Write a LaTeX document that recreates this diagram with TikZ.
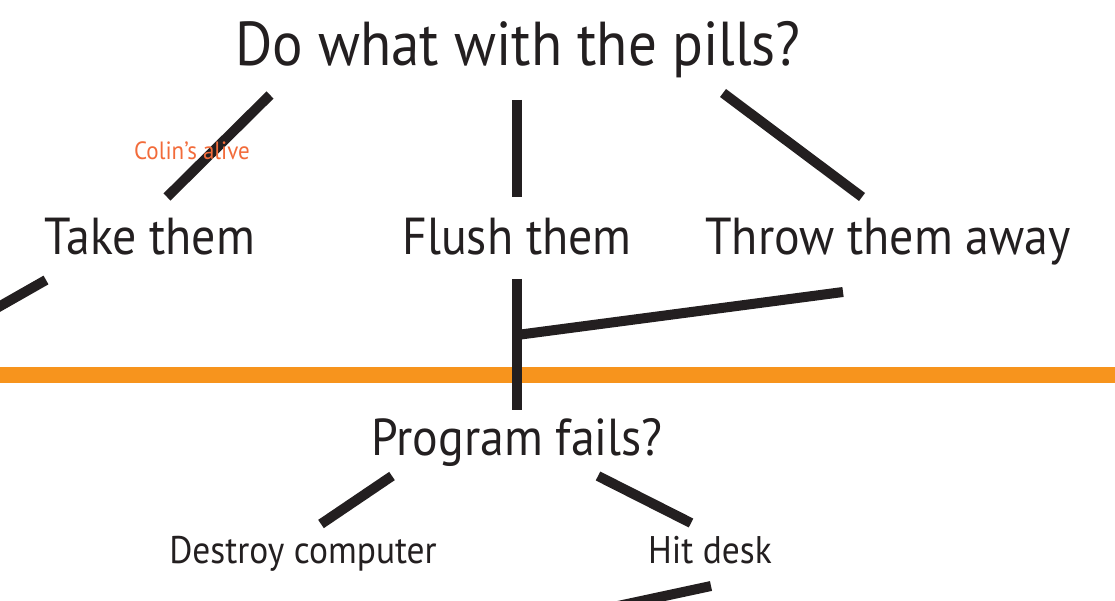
\documentclass[tikz,border=0pt]{standalone}
\usepackage{fontspec}
\setmainfont{PT Sans}[FakeStretch=0.92]
\definecolor{ink}{HTML}{231F20}
\definecolor{barorange}{HTML}{F7941D}
\definecolor{noteorange}{HTML}{F26B3A}
\tikzset{
  lbl/.style={inner sep=0pt, anchor=base, text=ink},
  big/.style={lbl, font=\fontsize{62}{68}\selectfont},
  mid/.style={lbl, font=\fontsize{52}{58}\selectfont},
  small/.style={lbl, font=\fontsize{38.5}{44}\selectfont},
  note/.style={inner sep=0pt, anchor=base, text=noteorange, font=\fontsize{25}{28}\selectfont},
  stroke/.style={draw=ink, line width=10pt},
  divider/.style={draw=barorange, line width=16pt}
}
\begin{document}
\begin{tikzpicture}[x=1pt,y=-1pt]
\useasboundingbox (0,0) rectangle (1115,601);
% divider
\coordinate (dl) at (0,375);
\coordinate (dr) at (1115,375);
\draw[divider] (dl) -- (dr);
% texts
\node[big] (q) at (518,66) {Do what with the pills?};
\node[mid] (take) at (150,255) {Take them};
\node[mid] (flush) at (517,255) {Flush them};
\node[mid] (throw) at (888,255) {Throw them away};
\node[mid] (prog) at (517,455) {Program fails?};
\node[small] (destroy) at (303,563) {Destroy computer};
\node[small] (hit) at (710,563) {Hit desk};
% line end points
\coordinate (a1) at (270,95); \coordinate (a2) at (167,197);
\coordinate (b1) at (517,100); \coordinate (b2) at (517,197);
\coordinate (c1) at (723,93); \coordinate (c2) at (862,197);
\coordinate (d1) at (46,280); \coordinate (d2) at (-5,309);
\coordinate (e1) at (517,279); \coordinate (e2) at (517,410);
\coordinate (f1) at (517,335); \coordinate (f2) at (843,292);
\coordinate (g1) at (392,476); \coordinate (g2) at (321,524);
\coordinate (h1) at (598,476); \coordinate (h2) at (691,523);
\coordinate (k1) at (711,586); \coordinate (k2) at (590,612);
\draw[stroke] (a1) -- (a2);
\draw[stroke] (b1) -- (b2);
\draw[stroke] (c1) -- (c2);
\draw[stroke] (d1) -- (d2);
\draw[stroke] (e1) -- (e2);
\draw[stroke] (f1) -- (f2);
\draw[stroke] (g1) -- (g2);
\draw[stroke] (h1) -- (h2);
\draw[stroke] (k1) -- (k2);
\node[note] (colin) at (192,160) {Colin’s alive};
\end{tikzpicture}
\end{document}
